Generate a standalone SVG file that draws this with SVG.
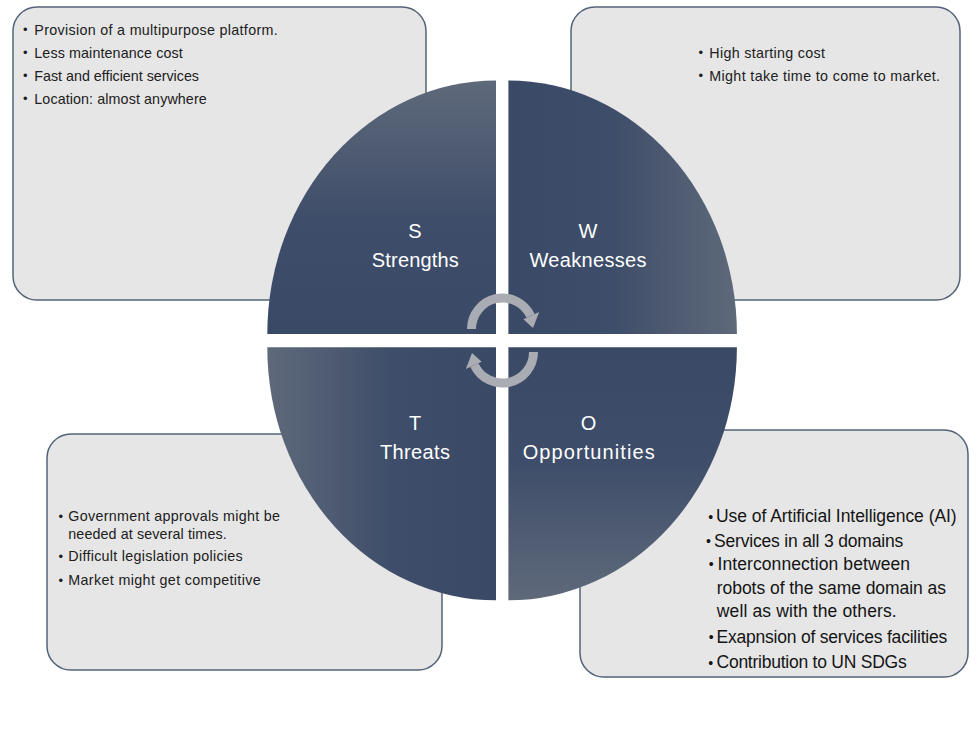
<svg xmlns="http://www.w3.org/2000/svg" xmlns:xlink="http://www.w3.org/1999/xlink" width="977" height="732" viewBox="0 0 977 732">
  <style>
    .box { fill: #e6e6e6; stroke: #54637a; stroke-width: 1.5; }
    .note { font-family: "Liberation Sans", Arial, sans-serif; font-size: 14.3px; fill: #202020; }
    .note-lg { font-family: "Liberation Sans", Arial, sans-serif; font-size: 17.5px; fill: #141414; }
    .dot { font-family: "Liberation Sans", Arial, sans-serif; font-size: 13px; fill: #202020; }
    .dot-lg { font-family: "Liberation Sans", Arial, sans-serif; font-size: 14px; fill: #141414; }
    .label { font-family: "Liberation Sans", Arial, sans-serif; font-size: 20px; fill: #ffffff; text-anchor: middle; }
    .cycle { fill: none; stroke: #a9acb2; stroke-width: 9; }
    .cycle-head { fill: #a9acb2; }
  </style>
  <defs>
    <linearGradient id="g-up" x1="0" y1="1" x2="0" y2="0">
      <stop offset="0" stop-color="#3a4965"/>
      <stop offset="0.45" stop-color="#3e4d69"/>
      <stop offset="1" stop-color="#5e697a"/>
    </linearGradient>
    <linearGradient id="g-right" x1="0" y1="0" x2="1" y2="0">
      <stop offset="0" stop-color="#3a4965"/>
      <stop offset="0.45" stop-color="#3e4d69"/>
      <stop offset="1" stop-color="#5e697a"/>
    </linearGradient>
    <linearGradient id="g-down" x1="0" y1="0" x2="0" y2="1">
      <stop offset="0" stop-color="#3a4965"/>
      <stop offset="0.45" stop-color="#3e4d69"/>
      <stop offset="1" stop-color="#5e697a"/>
    </linearGradient>
    <linearGradient id="g-left" x1="1" y1="0" x2="0" y2="0">
      <stop offset="0" stop-color="#3a4965"/>
      <stop offset="0.45" stop-color="#3e4d69"/>
      <stop offset="1" stop-color="#5e697a"/>
    </linearGradient>
    <!-- half-circle arrow, reused upside down for the lower half -->
    <g id="half-arrow">
      <path class="cycle" d="M 471.5 329 A 31 31 0 0 1 530.6 315.9"/>
      <polygon class="cycle-head" points="523.3,319.3 539.2,311.9 533,328"/>
    </g>
  </defs>

  <rect width="977" height="732" fill="#ffffff"/>

  <!-- note boxes behind the wheel -->
  <g id="box-strengths">
    <rect class="box" x="13" y="7" width="413" height="293" rx="24"/>
    <text class="dot" x="23" y="34.2">•</text>
    <text class="note" x="34.3" y="34.5" textLength="243.4">Provision of a multipurpose platform.</text>
    <text class="dot" x="23" y="57.2">•</text>
    <text class="note" x="34.3" y="57.5" textLength="148.4">Less maintenance cost</text>
    <text class="dot" x="23" y="80.2">•</text>
    <text class="note" x="34.3" y="80.5" textLength="164.7">Fast and efficient services</text>
    <text class="dot" x="23" y="103.2">•</text>
    <text class="note" x="34.3" y="103.5" textLength="172.4">Location: almost anywhere</text>
  </g>

  <g id="box-weaknesses">
    <rect class="box" x="571" y="7" width="389" height="293" rx="24"/>
    <text class="dot" x="698.4" y="57.2">•</text>
    <text class="note" x="709.3" y="57.5" textLength="115.7">High starting cost</text>
    <text class="dot" x="698.4" y="80.4">•</text>
    <text class="note" x="709.3" y="80.7" textLength="230.7">Might take time to come to market.</text>
  </g>

  <g id="box-threats">
    <rect class="box" x="47" y="434" width="395" height="236" rx="24"/>
    <text class="dot" x="58.4" y="520.7">•</text>
    <text class="note" x="68.3" y="521" textLength="211.7">Government approvals might be</text>
    <text class="note" x="68.3" y="538.8" textLength="158.4">needed at several times.</text>
    <text class="dot" x="58.4" y="560.7">•</text>
    <text class="note" x="68.3" y="561" textLength="174.4">Difficult legislation policies</text>
    <text class="dot" x="58.4" y="584.7">•</text>
    <text class="note" x="68.3" y="585" textLength="192.4">Market might get competitive</text>
  </g>

  <g id="box-opportunities">
    <rect class="box" x="580" y="430" width="388" height="247" rx="24"/>
    <text class="dot-lg" x="708.2" y="521.5">•</text>
    <text class="note-lg" x="716" y="522.3" textLength="240.7">Use of Artificial Intelligence (AI)</text>
    <text class="dot-lg" x="706" y="545.9">•</text>
    <text class="note-lg" x="714" y="546.7" textLength="189.3">Services in all 3 domains</text>
    <text class="dot-lg" x="708.7" y="569.2">•</text>
    <text class="note-lg" x="717.5" y="570" textLength="192.5">Interconnection between</text>
    <text class="note-lg" x="716.8" y="594" textLength="229.2">robots of the same domain as</text>
    <text class="note-lg" x="716.8" y="617.3" textLength="179.9">well as with the others.</text>
    <text class="dot-lg" x="708.7" y="641.9">•</text>
    <text class="note-lg" x="716.5" y="642.7" textLength="230.8">Exapnsion of services facilities</text>
    <text class="dot-lg" x="708.2" y="667.5">•</text>
    <text class="note-lg" x="716.5" y="668.3" textLength="190.2">Contribution to UN SDGs</text>
  </g>

  <!-- four quarter segments of the wheel -->
  <g id="quad-strengths">
    <path d="M 496 334 L 267.3 334 A 228.7 253.5 0 0 1 496 80.5 Z" fill="url(#g-up)"/>
    <text class="label" x="415" y="237.5">S</text>
    <text class="label" x="415.3" y="266.5" textLength="87">Strengths</text>
  </g>

  <g id="quad-weaknesses">
    <path d="M 508.4 334 L 508.4 80.5 A 228.5 253.5 0 0 1 736.9 334 Z" fill="url(#g-right)"/>
    <text class="label" x="588" y="237.5">W</text>
    <text class="label" x="588" y="266.5" textLength="117">Weaknesses</text>
  </g>

  <g id="quad-opportunities">
    <path d="M 508.4 347.3 L 736.9 347.3 A 228.5 253 0 0 1 508.4 600.3 Z" fill="url(#g-down)"/>
    <text class="label" x="588.5" y="429.5">O</text>
    <text class="label" x="588.7" y="458.5" textLength="132">Opportunities</text>
  </g>

  <g id="quad-threats">
    <path d="M 496 347.3 L 496 600.3 A 228.7 253 0 0 1 267.3 347.3 Z" fill="url(#g-left)"/>
    <text class="label" x="415" y="429.5">T</text>
    <text class="label" x="415" y="458.5" textLength="70">Threats</text>
  </g>

  <!-- cycle arrows at the hub -->
  <g id="connectors">
    <use xlink:href="#half-arrow"/>
    <use xlink:href="#half-arrow" transform="rotate(180 502.5 340.5)"/>
  </g>
</svg>
